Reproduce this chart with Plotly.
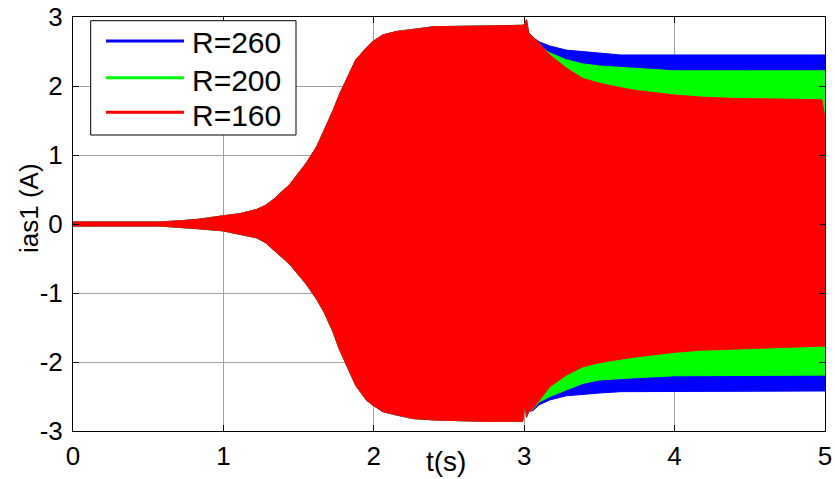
import plotly.graph_objects as go

# ---------------- data (envelopes) ----------------
series_names = ["R=260", "R=200", "R=160"]
series_colors = ["#0000ff", "#00ff00", "#ff0000"]

# common start-up phase (identical for all three resistances)
t_pre = [0.0, 0.58, 0.73, 0.84, 1.0, 1.11, 1.22, 1.28, 1.33, 1.44, 1.55, 1.62, 1.67, 1.73,
         1.77, 1.82, 1.88, 1.95, 1.99, 2.06, 2.15, 2.26, 2.40, 2.73, 2.99, 3.005, 3.015]
upper_pre = [0.03, 0.03, 0.05, 0.07, 0.12, 0.15, 0.21, 0.27, 0.35, 0.57, 0.88, 1.12, 1.36, 1.65,
             1.87, 2.11, 2.38, 2.55, 2.64, 2.74, 2.79, 2.82, 2.86, 2.87, 2.88, 2.90, 2.96]
lower_pre = [-0.03, -0.03, -0.05, -0.07, -0.10, -0.15, -0.20, -0.27, -0.36, -0.58, -0.87, -1.09, -1.28, -1.57,
             -1.81, -2.05, -2.34, -2.55, -2.62, -2.72, -2.77, -2.82, -2.84, -2.86, -2.86, -2.58, -2.80]

# after the load step at t = 3 s
t_post_260 = [3.03, 3.06, 3.10, 3.17, 3.28, 3.39, 3.50, 3.64, 4.0, 4.5, 5.0]
upper_260 = [2.77, 2.70, 2.64, 2.58, 2.52, 2.50, 2.48, 2.45, 2.45, 2.45, 2.45]
lower_260 = [-2.72, -2.70, -2.62, -2.55, -2.49, -2.47, -2.45, -2.43, -2.42, -2.42, -2.42]

t_post_200 = [3.03, 3.06, 3.10, 3.17, 3.28, 3.39, 3.50, 3.73, 4.0, 4.5, 5.0]
upper_200 = [2.77, 2.71, 2.58, 2.48, 2.38, 2.32, 2.29, 2.26, 2.22, 2.22, 2.22]
lower_200 = [-2.72, -2.68, -2.58, -2.50, -2.40, -2.31, -2.26, -2.23, -2.20, -2.19, -2.19]

t_post_160 = [3.03, 3.06, 3.10, 3.17, 3.28, 3.39, 3.50, 3.61, 3.73, 3.84, 4.0, 4.17,
              4.39, 4.72, 4.98, 5.0]
upper_160 = [2.77, 2.71, 2.62, 2.45, 2.26, 2.11, 2.04, 1.99, 1.94, 1.91, 1.87, 1.84,
             1.82, 1.81, 1.80, 1.52]
lower_160 = [-2.72, -2.67, -2.55, -2.36, -2.19, -2.07, -2.01, -1.97, -1.93, -1.90, -1.86, -1.83,
             -1.81, -1.79, -1.77, -1.77]

x_tick_vals = [0, 1, 2, 3, 4, 5]
x_tick_labels = ["0", "1", "2", "3", "4", "5"]
y_tick_vals = [-3, -2, -1, 0, 1, 2, 3]
y_tick_labels = ["-3", "-2", "-1", "0", "1", "2", "3"]

x_title = "t(s)"
y_title = "ias1 (A)"

# ---------------- figure ----------------
FONT = "Liberation Sans, Arial, sans-serif"
W, H = 835, 479
L, R, T, B = 73, 10, 17, 48
PW, PH = W - L - R, H - T - B


def px_x(px):
    return (px - L) / PW


def px_y(py):
    return (H - B - py) / PH


posts = [
    (t_post_260, upper_260, lower_260),
    (t_post_200, upper_200, lower_200),
    (t_post_160, upper_160, lower_160),
]

fig = go.Figure()
for name, color, (tp, up, lo) in zip(series_names, series_colors, posts):
    t_all = t_pre + tp
    up_all = upper_pre + up
    lo_all = lower_pre + lo
    fig.add_trace(go.Scatter(
        x=t_all + t_all[::-1],
        y=up_all + lo_all[::-1],
        mode="lines",
        fill="toself",
        fillcolor=color,
        line=dict(color=color, width=1),
        name=name,
        showlegend=False,
        hoverinfo="skip",
    ))

axis_common = dict(
    showline=True, linecolor="black", linewidth=1, mirror="ticks",
    ticks="inside", ticklen=6, tickcolor="black", tickwidth=1,
    showgrid=True, gridcolor="#a0a0a0", gridwidth=1, zeroline=False,
    tickfont=dict(family=FONT, size=26, color="black"),
    automargin=False,
)

fig.update_xaxes(range=[0, 5], tickvals=x_tick_vals, ticktext=x_tick_labels,
                 ticklabelstandoff=2, **axis_common)
fig.update_yaxes(range=[-3, 3], tickvals=y_tick_vals, ticktext=y_tick_labels,
                 ticklabelstandoff=4, **axis_common)

# legend drawn as a MATLAB-style box with long line samples
shapes = [dict(type="rect", xref="paper", yref="paper",
               x0=px_x(90.7), x1=px_x(296), y0=px_y(135), y1=px_y(20.7),
               line=dict(color="black", width=1), fillcolor="white", layer="above")]
annotations = []
row_line_y = [41, 77.7, 112.3]
row_text_y = [43, 80.5, 116]
for name, color, ly, ty in zip(series_names, series_colors, row_line_y, row_text_y):
    shapes.append(dict(type="line", xref="paper", yref="paper",
                       x0=px_x(106), x1=px_x(184), y0=px_y(ly), y1=px_y(ly),
                       line=dict(color=color, width=3), layer="above"))
    annotations.append(dict(text=name, xref="paper", yref="paper",
                            x=px_x(190), y=px_y(ty), xanchor="left", yanchor="middle",
                            showarrow=False,
                            font=dict(family=FONT, size=30, color="black")))

annotations.append(dict(text=x_title, xref="paper", yref="paper",
                        x=px_x(445.5), y=px_y(461), xanchor="center", yanchor="middle",
                        showarrow=False, font=dict(family=FONT, size=28, color="black")))
annotations.append(dict(text=y_title, xref="paper", yref="paper",
                        x=px_x(29), y=px_y(208), xanchor="center", yanchor="middle",
                        textangle=-90, showarrow=False,
                        font=dict(family=FONT, size=26, color="black")))

fig.update_layout(
    width=W, height=H,
    margin=dict(l=L, r=R, t=T, b=B),
    paper_bgcolor="white", plot_bgcolor="white",
    showlegend=False,
    shapes=shapes,
    annotations=annotations,
)

fig.write_html("out.html",
               config={"displayModeBar": False},
               post_script="document.body.style.margin='0px';document.body.style.overflow='hidden';")
